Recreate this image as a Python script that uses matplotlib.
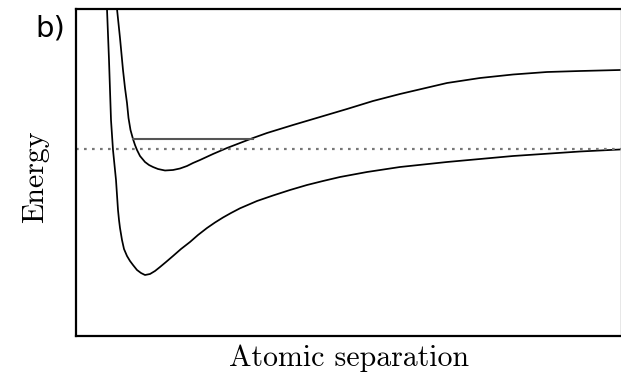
import matplotlib
matplotlib.use("Agg")
import matplotlib.pyplot as plt

# Data (arbitrary units)
sep_lower = [31, 33, 35, 37, 40, 42, 43, 44, 46, 48, 51, 54, 57, 61, 65, 69, 74, 79, 84, 90, 97,
             105, 114, 122, 131, 139, 147, 155, 164, 181, 197, 214, 231, 247, 264, 291, 324,
             371, 437, 504, 544]
energy_lower = [327, 276, 216, 186, 156, 126, 116, 108, 96, 87, 80, 75, 71, 66, 63, 61, 62, 65,
                69, 74, 80, 87, 94, 101, 108, 113.5, 118.5, 123, 127.7, 135, 140.5, 146, 151,
                155, 159, 164, 169, 174, 180, 184.5, 186.5]

sep_upper = [41, 44, 47, 49, 51, 52.5, 54.5, 57, 59, 61, 64, 69, 73, 77, 82, 89, 97, 104, 111,
             117, 124, 137, 151, 164, 177, 191, 204, 217, 244, 271, 297, 324, 371, 404, 437,
             471, 504, 544]
energy_upper = [327, 298, 266, 248, 233, 218, 206, 197, 191, 186, 180, 174, 171, 169, 167,
                165.5, 166, 167.5, 170, 173, 176, 182, 188, 193, 198, 203, 207, 211, 219, 227,
                235, 242, 253, 258, 261.5, 264, 265, 266]

dissociation_level = 187
level_energy = 197
level_start, level_end = 57, 177

fig = plt.figure(figsize=(6.21, 3.77), dpi=100)
ax = fig.add_axes([76 / 621, 41 / 377, 545 / 621, 327 / 377])

for xs, ys in [(sep_lower, energy_lower), (sep_upper, energy_upper)]:
    ax.plot(xs, ys, color="black", lw=1.25, solid_joinstyle="round", solid_capstyle="round")
ax.axhline(dissociation_level, color="#777777", lw=1.6, linestyle=(0, (1.2, 2.4)))
ax.plot([level_start, level_end], [level_energy, level_energy], color="#555555", lw=1.5)

ax.set_xlim(0, 545)
ax.set_ylim(0, 327)
ax.set_xticks([])
ax.set_yticks([])
for name, s in ax.spines.items():
    s.set_linewidth(1.6)
    s.set_color("black")
ax.spines["right"].set_linewidth(1.0)
ax.spines["right"].set_color("#888888")

serif = dict(family="cmr10", fontsize=21.5)
fig.text(349 / 621, 1 - 358 / 377, "Atomic separation", ha="center", va="center", **serif)
fig.text(35 / 621, 1 - 177 / 377, "Energy", ha="center", va="center", rotation=90, **serif)
fig.text(50 / 621, 1 - 28 / 377, "b)", ha="center", va="center", family="DejaVu Sans", fontsize=21)

fig.savefig("out.png", dpi=100)
